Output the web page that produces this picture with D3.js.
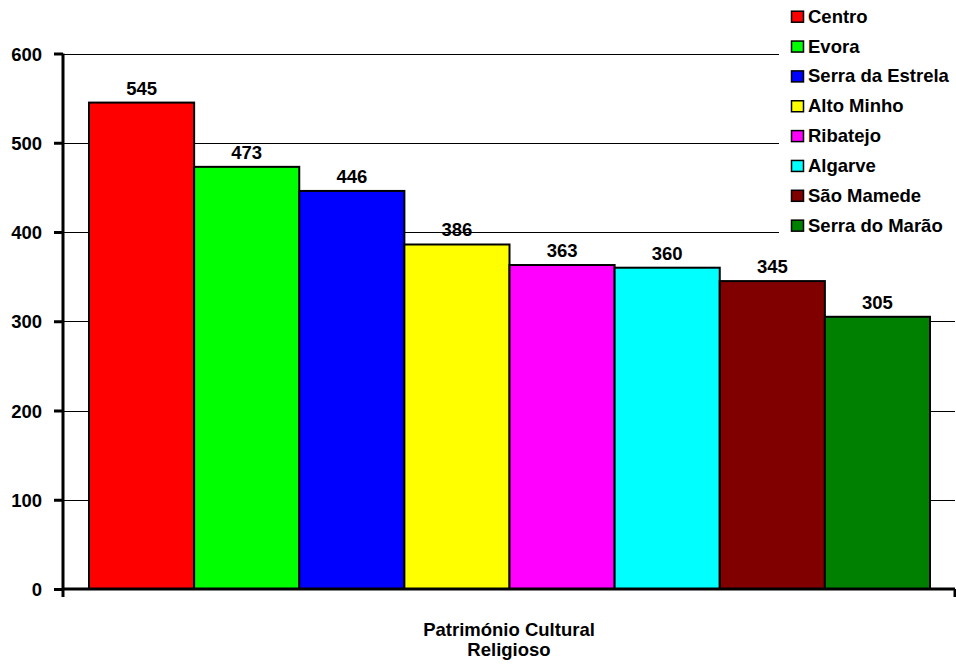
<!DOCTYPE html>
<html><head><meta charset="utf-8">
<script src="https://cdn.jsdelivr.net/npm/d3@7"></script>
<style>body{margin:0;background:#fff;} svg{display:block;font-family:"Liberation Sans",Arial,sans-serif;font-weight:bold;}</style>
</head><body>
<script>
const categories = ["Centro","Evora","Serra da Estrela","Alto Minho","Ribatejo","Algarve","São Mamede","Serra do Marão"];
const values = [545,473,446,386,363,360,345,305];
const colors = ["#ff0000","#00ff00","#0000ff","#ffff00","#ff00ff","#00ffff","#800000","#008000"];
const yTicks = [0,100,200,300,400,500,600];
const groupLabel = ["Património Cultural","Religioso"];

const W=956,H=666,FS=18.5,FF="'Liberation Sans',Arial,sans-serif";
const svg=d3.select("body").append("svg").attr("width",W).attr("height",H);
const pL=63,pR=955,pT=53.5,pB=589;
const y=d3.scaleLinear().domain([0,600]).range([pB,pT]);
const x=d3.scaleBand().domain(categories).range([pL+26,pR-25]).padding(0);

// gridlines
svg.append("g").selectAll("line").data(yTicks.filter(d=>d>0)).join("line")
  .attr("x1",pL).attr("x2",pR).attr("y1",d=>Math.round(y(d))+0.5).attr("y2",d=>Math.round(y(d))+0.5)
  .attr("stroke","#000").attr("stroke-width",1.2);

// bars
svg.append("g").selectAll("rect").data(values).join("rect")
  .attr("x",(d,i)=>x(categories[i])).attr("width",x.bandwidth())
  .attr("y",d=>y(d)).attr("height",d=>pB-y(d))
  .attr("fill",(d,i)=>colors[i]).attr("stroke","#000").attr("stroke-width",2);

// value labels
svg.append("g").selectAll("text").data(values).join("text")
  .attr("x",(d,i)=>x(categories[i])+x.bandwidth()/2).attr("y",d=>y(d)-8)
  .attr("text-anchor","middle").attr("font-size",FS).text(d=>d);

// y axis
const yAxis=d3.axisLeft(y).tickValues(yTicks).tickSize(9).tickPadding(12);
const ga=svg.append("g").attr("transform",`translate(${pL},0)`).call(yAxis);
ga.select(".domain").attr("stroke","#000").attr("stroke-width",3).attr("d",`M0,${pT}V${pB}`);
ga.selectAll(".tick line").attr("stroke","#000").attr("stroke-width",3);
ga.selectAll(".tick text").attr("font-size",FS).attr("font-family",FF).attr("font-weight","bold").attr("fill","#000").attr("dy","0.36em");

// x axis
svg.append("line").attr("x1",pL).attr("x2",pR).attr("y1",pB).attr("y2",pB).attr("stroke","#000").attr("stroke-width",3);
svg.append("g").selectAll("line").data([pL,pR]).join("line")
  .attr("x1",d=>d).attr("x2",d=>d).attr("y1",pB).attr("y2",pB+8).attr("stroke","#000").attr("stroke-width",3);

// x label
svg.append("text").attr("text-anchor","middle").attr("font-size",FS)
  .selectAll("tspan").data(groupLabel).join("tspan").attr("x",(pL+pR)/2).attr("y",(d,i)=>636+i*20).text(d=>d);

// legend
const lg=svg.append("g");
lg.append("rect").attr("x",779).attr("y",0).attr("width",W-779).attr("height",238).attr("fill","#fff");
const items=lg.selectAll("g").data(categories).join("g").attr("transform",(d,i)=>`translate(791,${22.7+i*29.85})`);
items.append("rect").attr("x",0.5).attr("y",-11.5).attr("width",12).attr("height",11).attr("fill",(d,i)=>colors[i]).attr("stroke","#000").attr("stroke-width",1.5);
items.append("text").attr("x",17).attr("y",0).attr("font-size",FS).text(d=>d);
</script>
</body></html>
